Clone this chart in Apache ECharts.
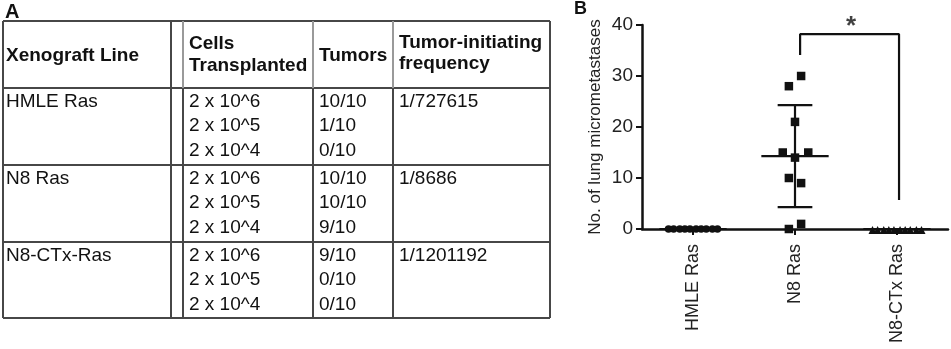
<!DOCTYPE html>
<html>
<head>
<meta charset="utf-8">
<script src="https://cdn.jsdelivr.net/npm/echarts@6/dist/echarts.min.js"></script>
<style>html,body{margin:0;padding:0;background:#fff;}#c{width:951px;height:349px;}</style>
</head>
<body>
<div id="c"></div>
<script>
// ---- Panel A table data ----
var xenograftLines = ['HMLE Ras', 'N8 Ras', 'N8-CTx-Ras'];
var cellsTransplanted = ['2 x 10^6', '2 x 10^5', '2 x 10^4'];
var tumors = [['10/10', '1/10', '0/10'], ['10/10', '10/10', '9/10'], ['9/10', '0/10', '0/10']];
var frequency = ['1/727615', '1/8686', '1/1201192'];
var headers = [['Xenograft Line'], ['Cells', 'Transplanted'], ['Tumors'], ['Tumor-initiating', 'frequency']];

// ---- Panel B data ----
var categories = ['HMLE Ras', 'N8 Ras', 'N8-CTx Ras'];
var yTicks = [0, 10, 20, 30, 40];
var hmleX = [0.26, 0.31, 0.37, 0.42, 0.47, 0.53, 0.58, 0.63, 0.69, 0.74];
var hmleY = [0, 0, 0, 0, 0, 0, 0, 0, 0, 0];
var n8X = [1.44, 1.56, 1.50, 1.38, 1.63, 1.50, 1.44, 1.56, 1.44, 1.56];
var n8Y = [28, 30, 21, 15, 15, 14, 10, 9, 0, 1];
var ctxX = [2.26, 2.31, 2.37, 2.42, 2.47, 2.53, 2.58, 2.63, 2.69, 2.74];
var ctxY = [0, 0, 0, 0, 0, 0, 0, 0, 0, 0];
var groupCenter = [0.5, 1.5, 2.5];
var groupMean = [0, 14.3, 0];
var groupSD = [0, 10.0, 0];
var bracketX = [1.55, 1.55, 2.52, 2.52];
var bracketY = [34.1, 38.2, 38.2, 5.7];
var starPos = [2.05, 38.2];

function zip(a, b) { return a.map(function (v, i) { return [v, b[i]]; }); }

// ---- table graphics ----
var FONT = '"Liberation Sans", Arial, sans-serif';
var LC = '#474747';
var GC = '#9a9a9a';
var colX = [3, 171, 183, 313, 393, 550];
var rowY = [21, 88, 165, 242, 318];
var textX = [6, 189, 319, 399];
var lineOffsets = [14, 38, 63];
var els = [];
function hline(y, x1, x2, c, w) { els.push({ type: 'line', shape: { x1: x1, y1: y, x2: x2, y2: y }, style: { stroke: c, lineWidth: w } }); }
function vline(x, y1, y2, c, w) { els.push({ type: 'line', shape: { x1: x, y1: y1, x2: x, y2: y2 }, style: { stroke: c, lineWidth: w } }); }
function txt(s, x, y, bold) {
  els.push({ type: 'text', style: { text: s, x: x, y: y, fill: '#111', font: (bold ? 'bold ' : '') + '19px ' + FONT, textAlign: 'left', textVerticalAlign: 'middle' } });
}
rowY.forEach(function (y) { hline(y, colX[0], colX[5], LC, 2); });
vline(colX[0], rowY[0], rowY[4], LC, 2);
vline(colX[5], rowY[0], rowY[4], LC, 2);
vline(colX[1], rowY[0], rowY[4], LC, 2);
vline(colX[2], rowY[0], rowY[1], GC, 2);
vline(colX[3], rowY[0], rowY[1], GC, 2);
vline(colX[4], rowY[0], rowY[1], GC, 2);
vline(colX[2], rowY[1], rowY[4], LC, 2);
vline(colX[3], rowY[1], rowY[4], LC, 2);
vline(colX[4], rowY[1], rowY[4], LC, 2);
// headers
txt(headers[0][0], textX[0], 56, true);
txt(headers[1][0], textX[1], 44, true);
txt(headers[1][1], textX[1], 66, true);
txt(headers[2][0], textX[2], 56, true);
txt(headers[3][0], textX[3], 43, true);
txt(headers[3][1], textX[3], 64, true);
// body
xenograftLines.forEach(function (name, g) {
  var top = rowY[g + 1];
  txt(name, textX[0], top + lineOffsets[0], false);
  txt(frequency[g], textX[3], top + lineOffsets[0], false);
  for (var r = 0; r < 3; r++) {
    txt(cellsTransplanted[r], textX[1], top + lineOffsets[r], false);
    txt(tumors[g][r], textX[2], top + lineOffsets[r], false);
  }
});
// panel labels
els.push({ type: 'text', style: { text: 'A', x: 5, y: 12, fill: '#111', font: 'bold 20px ' + FONT, textVerticalAlign: 'middle' } });
els.push({ type: 'text', style: { text: 'B', x: 574, y: 9, fill: '#111', font: 'bold 18px ' + FONT, textVerticalAlign: 'middle' } });

var chart = echarts.init(document.getElementById('c'), null, { renderer: 'canvas' });
var errData = groupCenter.map(function (x, i) { return [x, groupMean[i], groupSD[i]]; });

chart.setOption({
  animation: false,
  backgroundColor: '#fff',
  graphic: { elements: els },
  grid: { left: 642, right: 3, top: 25, bottom: 120, containLabel: false },
  xAxis: [{
    type: 'category', data: categories, boundaryGap: true,
    axisLine: { show: true, lineStyle: { color: '#111', width: 2.5 } },
    axisTick: { show: true, alignWithLabel: true, length: 6, lineStyle: { color: '#111', width: 2 } },
    axisLabel: { rotate: 90, margin: 15, fontSize: 18, color: '#222', fontFamily: FONT },
    splitLine: { show: false }
  }, {
    type: 'value', min: 0, max: 3, show: false
  }],
  yAxis: {
    type: 'value', min: 0, max: 40, interval: 10,
    name: 'No. of lung micrometastases', nameLocation: 'middle', nameGap: 38,
    nameTextStyle: { fontSize: 17, color: '#222', fontFamily: FONT },
    axisLine: { show: true, lineStyle: { color: '#111', width: 2.5 } },
    axisTick: { show: true, length: 6, lineStyle: { color: '#111', width: 2 } },
    axisLabel: { fontSize: 19, color: '#222', margin: 9, fontFamily: FONT },
    splitLine: { show: false }
  },
  series: [{
    type: 'custom', xAxisIndex: 1, data: errData, z: 3,
    renderItem: function (params, api) {
      var x = api.value(0), m = api.value(1), sd = api.value(2);
      var c = api.coord([x, m]);
      var t = api.coord([x, m + sd]);
      var b = api.coord([x, m - sd]);
      var hw = api.size([0.33, 0])[0];
      var cw = api.size([0.17, 0])[0];
      var st = { stroke: '#111', lineWidth: 2.2 };
      return { type: 'group', children: [
        { type: 'line', shape: { x1: c[0] - hw, y1: c[1], x2: c[0] + hw, y2: c[1] }, style: st },
        { type: 'line', shape: { x1: t[0], y1: t[1], x2: b[0], y2: b[1] }, style: st },
        { type: 'line', shape: { x1: t[0] - cw, y1: t[1], x2: t[0] + cw, y2: t[1] }, style: st },
        { type: 'line', shape: { x1: b[0] - cw, y1: b[1], x2: b[0] + cw, y2: b[1] }, style: st }
      ] };
    }
  }, {
    type: 'scatter', xAxisIndex: 1, data: zip(hmleX, hmleY), symbol: 'circle', symbolSize: 7.5,
    itemStyle: { color: '#111', opacity: 1 }, z: 4
  }, {
    type: 'scatter', xAxisIndex: 1, data: zip(n8X, n8Y), symbol: 'rect', symbolSize: 8.5,
    itemStyle: { color: '#111', opacity: 1 }, z: 4
  }, {
    type: 'scatter', xAxisIndex: 1, data: zip(ctxX, ctxY), symbol: 'triangle', symbolSize: 8,
    symbolOffset: [0, 1], itemStyle: { color: '#111', opacity: 1 }, z: 4
  }, {
    type: 'line', xAxisIndex: 1, data: zip(bracketX, bracketY), symbol: 'none',
    lineStyle: { color: '#111', width: 2.2 }, z: 3
  }, {
    type: 'scatter', xAxisIndex: 1, data: [starPos], symbolSize: 0,
    label: { show: true, formatter: '*', position: 'top', distance: -6, fontSize: 26, fontWeight: 'bold', color: '#111', fontFamily: FONT }
  }]
});
</script>
</body>
</html>
